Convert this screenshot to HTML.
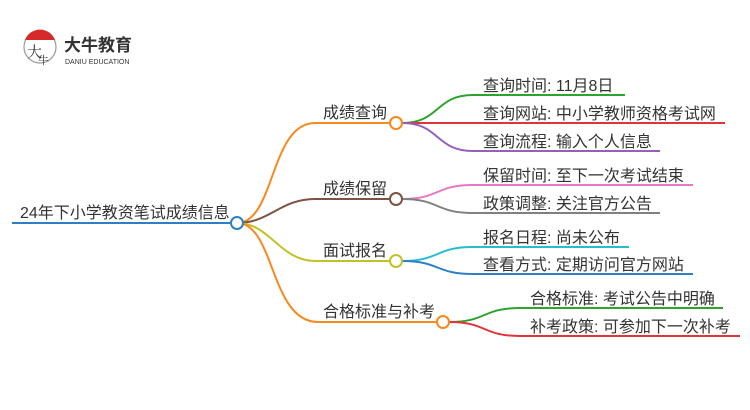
<!DOCTYPE html>
<html><head><meta charset="utf-8"><style>
html,body{margin:0;padding:0;background:#fff;width:750px;height:410px;overflow:hidden}
svg{display:block}
text{font-family:"Liberation Sans","Noto Sans CJK SC",sans-serif;fill:#333}
</style></head><body>
<svg width="750" height="410" viewBox="0 0 750 410" xmlns="http://www.w3.org/2000/svg">
<!-- logo -->
<circle cx="40" cy="47" r="16" fill="#fff" stroke="#999" stroke-width="1.2"/>
<path d="M25,40 A16,16 0 0 1 55,40 Z" fill="#d42a2a"/>
<text x="27" y="57" font-size="15" style="font-family:'Noto Serif CJK SC',serif" fill="#222">大</text>
<text x="38" y="64" font-size="11" style="font-family:'Noto Serif CJK SC',serif" fill="#222">牛</text>
<text x="64" y="51" font-size="17" font-weight="bold" fill="#222">大牛教育</text>
<text x="65" y="64" font-size="7" fill="#333">DANIU EDUCATION</text>

<g fill="none" stroke-width="2">
<line x1="12" y1="223" x2="231" y2="223" stroke="#2f7fc4"/>
<path d="M237,223 C275,223 270,123 315,123 L390,123" stroke="#f7891f"/>
<path d="M237,223 C270,223 280,199 315,199 L390,199" stroke="#7d5345"/>
<path d="M237,223 C270,223 280,261 315,261 L390,261" stroke="#c2c227"/>
<path d="M237,223 C275,223 270,322 318,322 L437,322" stroke="#f7891f"/>
<path d="M402,123 C440,123 435,95 473,95 L625,95" stroke="#2ea42e"/>
<path d="M402,123 L725,123" stroke="#e0343a"/>
<path d="M402,123 C440,123 435,151 473,151 L660,151" stroke="#9460bd"/>
<path d="M402,199 C440,199 435,185 473,185 L693,185" stroke="#e678c6"/>
<path d="M402,199 C440,199 435,213 473,213 L660,213" stroke="#808080"/>
<path d="M402,261 C440,261 435,247 473,247 L629,247" stroke="#27bcd2"/>
<path d="M402,261 C440,261 435,274 473,274 L693,274" stroke="#2f7fc4"/>
<path d="M449,322 C487,322 482,308 520,308 L723,308" stroke="#2ea42e"/>
<path d="M449,322 C487,322 482,336 520,336 L740,336" stroke="#e0343a"/>
</g>
<g fill="#fff" stroke-width="2">
<circle cx="237" cy="223" r="6" stroke="#2f7fc4"/>
<circle cx="396" cy="123" r="6" stroke="#f7891f"/>
<circle cx="396" cy="199" r="6" stroke="#7d5345"/>
<circle cx="396" cy="261" r="6" stroke="#c2c227"/>
<circle cx="443" cy="322" r="6" stroke="#f7891f"/>
</g>

<text x="20" y="218" font-size="16">24年下小学教资笔试成绩信息</text>
<text x="323" y="118" font-size="16">成绩查询</text>
<text x="323" y="194" font-size="16">成绩保留</text>
<text x="323" y="256" font-size="16">面试报名</text>
<text x="323" y="317" font-size="16">合格标准与补考</text>

<g font-size="16">
<text x="483" y="91">查询时间: 11月8日</text>
<text x="483" y="119">查询网站: 中小学教师资格考试网</text>
<text x="483" y="147">查询流程: 输入个人信息</text>
<text x="483" y="181">保留时间: 至下一次考试结束</text>
<text x="483" y="209">政策调整: 关注官方公告</text>
<text x="483" y="243">报名日程: 尚未公布</text>
<text x="483" y="270">查看方式: 定期访问官方网站</text>
<text x="530" y="304">合格标准: 考试公告中明确</text>
<text x="530" y="332">补考政策: 可参加下一次补考</text>
</g>
</svg>
</body></html>
